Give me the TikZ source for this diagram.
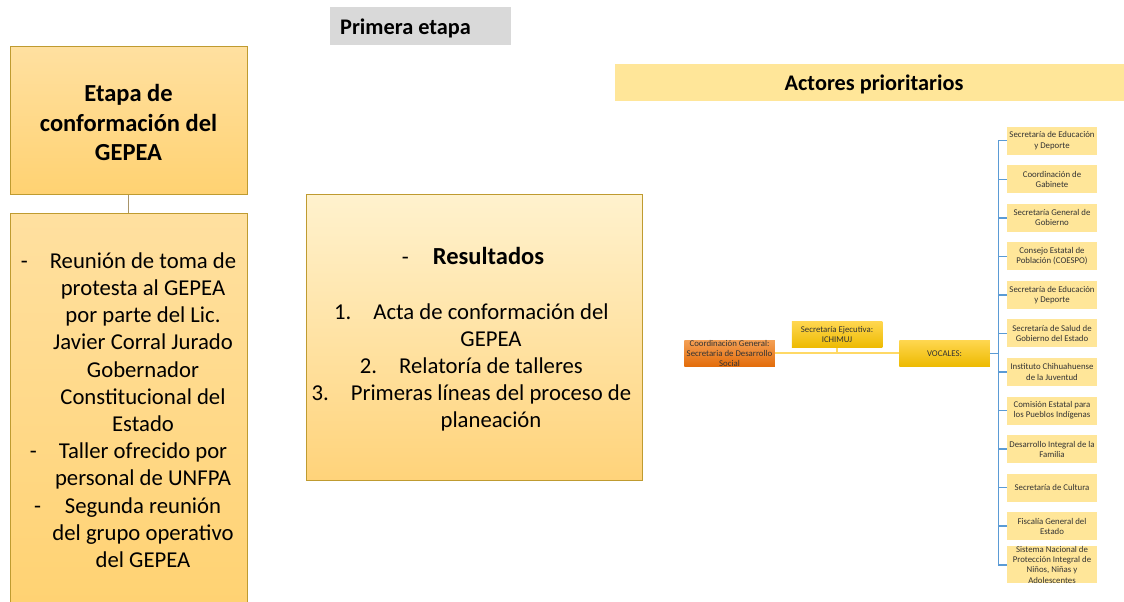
\documentclass[tikz,border=0pt]{standalone}
\usepackage{fontspec}
\setmainfont{Carlito}
\begin{document}
\begin{tikzpicture}[x=1pt,y=-1pt,
  bigbox/.style={draw=boxline,line width=1pt,top color=lgtop,bottom color=lgbot,inner sep=0pt},
  actor/.style={fill=actorfill,minimum width=90pt,minimum height=28pt,inner sep=0pt,align=center,font=\fontsize{8.8}{10.2}\selectfont,text=txt},
  govbox/.style={minimum width=90.5pt,minimum height=26.5pt,inner sep=0pt,align=center,font=\fontsize{8.8}{10.2}\selectfont,text=txt},
  yline/.style={draw=ylw,line width=2pt},
  bline/.style={draw=blu,line width=1.5pt},
  bigtxt/.style={align=center,inner sep=0pt,font=\fontsize{22.7}{27.2}\selectfont},
  headtxt/.style={inner sep=0pt,font=\fontsize{22.3}{24}\selectfont\bfseries},
]
\definecolor{boxline}{HTML}{BF9B30}
\definecolor{lgtop}{HTML}{FFE0A0}
\definecolor{lgbot}{HTML}{FFD272}
\definecolor{mgtop}{HTML}{FFF2CE}
\definecolor{mgbot}{HTML}{FFD37A}
\definecolor{actorfill}{HTML}{FFE699}
\definecolor{grayband}{HTML}{D9D9D9}
\definecolor{ylw}{HTML}{FFD966}
\definecolor{blu}{HTML}{5B9BD5}
\definecolor{txt}{HTML}{333333}
\definecolor{orgtop}{HTML}{F4A055}
\definecolor{orgbot}{HTML}{E36C0A}
\definecolor{goldtop}{HTML}{FFD750}
\definecolor{goldbot}{HTML}{EDBA00}
\definecolor{stemc}{HTML}{A89468}
\useasboundingbox (0,0) rectangle (1124,602);

% header bands
\node[fill=grayband,minimum width=181pt,minimum height=37.5pt,inner sep=0pt] (etapa) at (420.5,26.2) {};
\node[headtxt,anchor=west] (etapat) at (340,28.3) {Primera etapa};
\node[fill=actorfill,minimum width=509pt,minimum height=36.4pt,inner sep=0pt] (actores) at (869.5,82.5) {};
\node[headtxt] (actorest) at (874,84.3) {Actores prioritarios};

% left column
\node[bigbox,minimum width=237pt,minimum height=147pt] (conf) at (128.5,120.5) {};
\node[align=center,inner sep=0pt,font=\fontsize{24.5}{29.5}\selectfont\bfseries] (conft) at (128.5,122.5) {Etapa de\\conformación del\\GEPEA};
\node[bigbox,minimum width=237pt,minimum height=395pt,anchor=north] (acts) at (128.5,213) {};
\draw[draw=stemc,line width=1pt] (conf.south) -- (acts.north);
\node[bigtxt] (actst) at (143,410) {\llap{-\hspace{22pt}}Reunión de toma de\\protesta al GEPEA\\por parte del Lic.\\Javier Corral Jurado\\Gobernador\\Constitucional del\\Estado\\\llap{-\hspace{22pt}}Taller ofrecido por\\personal de UNFPA\\\llap{-\hspace{24pt}}Segunda reunión\\del grupo operativo\\del GEPEA};

% middle
\node[draw=boxline,line width=1pt,top color=mgtop,bottom color=mgbot,minimum width=336pt,minimum height=286pt,inner sep=0pt] (res) at (474,337) {};
\node[inner sep=0pt,font=\fontsize{24.5}{27.2}\selectfont\bfseries] (rest) at (488.5,256) {\llap{\mdseries\fontsize{22.7}{27}\selectfont-\hspace{24pt}}Resultados};
\node[bigtxt] (list) at (491,367.5) {\llap{1.\hspace{22pt}}Acta de conformación del\\GEPEA\\\llap{2.\hspace{22pt}}Relatoría de talleres\\\llap{3.\hspace{22pt}}Primeras líneas del proceso de\\planeación};

% organigram
\node[govbox,top color=orgtop,bottom color=orgbot] (coord) at (729.5,353.3) {Coordinación General:\\Secretaria de Desarrollo\\Social};
\node[govbox,top color=goldtop,bottom color=goldbot] (sec) at (837,334.7) {Secretaría Ejecutiva:\\ICHIMUJ};
\node[govbox,top color=goldtop,bottom color=goldbot] (voc) at (944.5,353.3) {VOCALES:};
\coordinate (j) at (sec.south |- coord.east);
\draw[yline] (coord.east) -- (voc.west);
\draw[yline] (sec.south) -- (j);

\coordinate (trunk) at (998.3,353.3);
\foreach \i/\t in {1/{Secretaría de Educación\\y Deporte},
  2/{Coordinación de\\Gabinete},
  3/{Secretaría General de\\Gobierno},
  4/{Consejo Estatal de\\Población (COESPO)},
  5/{Secretaría de Educación\\y Deporte},
  6/{Secretaría de Salud de\\Gobierno del Estado},
  7/{Instituto Chihuahuense\\de la Juventud},
  8/{Comisión Estatal para\\los Pueblos Indígenas},
  9/{Desarrollo Integral de la\\Familia},
  10/{Secretaría de Cultura},
  11/{Fiscalía General del\\Estado},
  12/{Sistema Nacional de\\Protección Integral de\\Niños, Niñas y\\Adolescentes}}{
  \node[actor] (a\i) at (1052,{140.7+38.55*(\i-1)}) {\t};
  \draw[bline] (a\i.west) -- (trunk |- a\i.west);
}
\draw[bline] (trunk |- a1.west) -- (trunk |- a12.west);
\draw[bline] (voc.east) -- (trunk);
\end{tikzpicture}
\end{document}
